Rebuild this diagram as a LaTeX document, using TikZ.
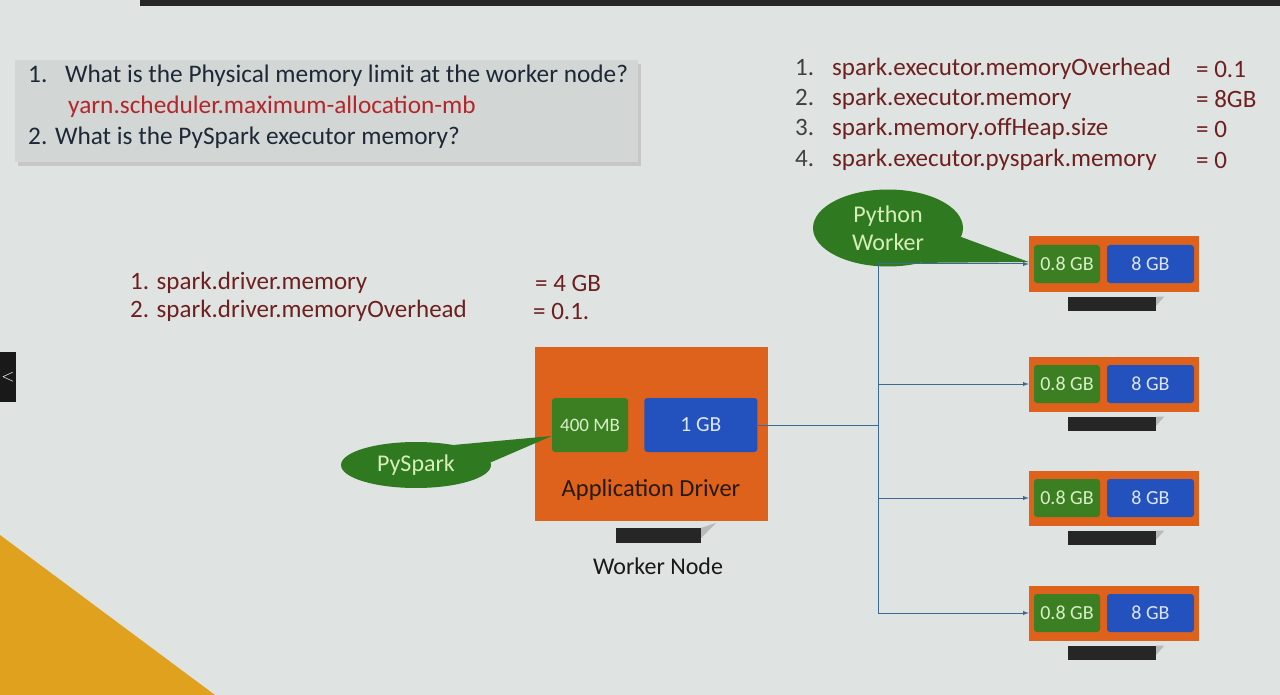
\documentclass[tikz,border=0pt]{standalone}
\usepackage{fontspec}
\setmainfont{Carlito}
\usepackage{xcolor}
\usepackage{tikz}
\usetikzlibrary{shapes,arrows,positioning}
\definecolor{slideBg}{HTML}{DFE3E1}
\definecolor{boxGray}{HTML}{D2D7D5}
\definecolor{driverOrange}{HTML}{DE611C}
\definecolor{memGreen}{HTML}{3C7F22}
\definecolor{memBlue}{HTML}{2352BE}
\definecolor{greenText}{HTML}{D8EEC8}
\definecolor{blueText}{HTML}{DDE4F4}
\definecolor{calloutGreen}{HTML}{2F7A20}
\definecolor{calloutText}{HTML}{D6EEB8}
\definecolor{linkBlue}{HTML}{3C6A94}
\definecolor{confRed}{HTML}{6E2020}
\definecolor{yarnRed}{HTML}{B5262A}
\definecolor{questionInk}{HTML}{1E2836}
\definecolor{accentYellow}{HTML}{E0A21E}
\tikzset{>=latex}
\tikzset{link-line/.style={draw=linkBlue, line width=1pt}}
\tikzset{mem-node/.style={inner sep=0, rounded corners=3pt, minimum height=38pt}}
\tikzset{green-mem/.style={mem-node, fill=memGreen, text=greenText}}
\tikzset{blue-mem/.style={mem-node, fill=memBlue, text=blueText}}
\tikzset{executor-box/.style={fill=driverOrange, inner sep=0, minimum width=170pt, minimum height=55pt}}
\tikzset{stand-bar/.style={fill=black!85, inner sep=0, minimum width=88pt, minimum height=14pt}}
\tikzset{callout/.style={ellipse, fill=calloutGreen, text=calloutText, inner sep=0,
    font=\fontsize{24}{28}\selectfont, align=center}}
\tikzset{question-text/.style={anchor=west, inner sep=0, text=questionInk, font=\fontsize{25.3}{29}\selectfont}}
\tikzset{conf-text/.style={anchor=west, inner sep=0, text=confRed, font=\fontsize{25}{29}\selectfont}}
\tikzset{driver-text/.style={conf-text, font=\fontsize{25}{29}\selectfont}}
\newcommand{\executor}[2] {
    \node[executor-box] (exec#1) at (1114, #2) {};
    \node[green-mem, minimum width=66pt, right=5pt of exec#1.west] (green#1)
        {\fontsize{20}{22}\selectfont 0.8 GB};
    \node[blue-mem, minimum width=87pt, left=5pt of exec#1.east] (blue#1)
        {\fontsize{20}{22}\selectfont 8 GB};
    \node[stand-bar, below=5pt of exec#1.south, xshift=-2pt] (stand#1) {};
    \fill[gray!55] (stand#1.north east) -- ++(8,0) -- ++(-8,9) -- cycle;
}

\begin{document}
\begin{tikzpicture}[x=1pt, y=-1pt]
    \useasboundingbox (0,0) rectangle (1280,695);
    % slide
    \fill[slideBg] (0,0) rectangle (1280,695);
    \fill[black!85] (140,0) rectangle (1280,6);
    \fill[black!90] (0,352) rectangle (16,402);
    \node[text=white, inner sep=0, font=\fontsize{17}{17}\selectfont] (prev) at (8,377) {$<$};
    \fill[accentYellow] (0,535) -- (215,695) -- (0,695) -- cycle;

    % questions
    \fill[black!22] (18,64) rectangle (641,166);
    \node[fill=boxGray, inner sep=0, minimum width=623pt, minimum height=102pt] (questions) at (326.5,111) {};
    \node[question-text] (q1) at (28,76) {\makebox[37pt][l]{1.}What is the Physical memory limit at the worker node?};
    \node[question-text, text=yarnRed] (yarn) at (68,107) {yarn.scheduler.maximum-allocation-mb};
    \node[question-text] (q2) at (28,138) {2. What is the PySpark executor memory?};

    % executor settings
    \node[conf-text] (ec1) at (795,69) {\makebox[37pt][l]{\color{black!75}1.}spark.executor.memoryOverhead};
    \node[conf-text] (ec2) at (795,99) {\makebox[37pt][l]{\color{black!75}2.}spark.executor.memory};
    \node[conf-text] (ec3) at (795,129) {\makebox[37pt][l]{\color{black!75}3.}spark.memory.offHeap.size};
    \node[conf-text] (ec4) at (795,160) {\makebox[37pt][l]{\color{black!75}4.}spark.executor.pyspark.memory};
    \node[conf-text] (ev1) at (1196,69) {= 0.1};
    \node[conf-text] (ev2) at (1196,99) {= 8GB};
    \node[conf-text] (ev3) at (1196,129) {= 0};
    \node[conf-text] (ev4) at (1196,160) {= 0};

    % driver settings
    \node[driver-text] (dc1) at (130,283) {1. spark.driver.memory};
    \node[driver-text] (dc2) at (130,311) {2. spark.driver.memoryOverhead};
    \node[driver-text] (dv1) at (535,283) {= 4 GB};
    \node[driver-text] (dv2) at (533,311) {= 0.1.};

    % driver
    \node[fill=driverOrange, inner sep=0, minimum width=233pt, minimum height=174pt] (driver) at (651.5,434) {};
    \node[green-mem, minimum width=76pt, minimum height=54pt, right=17pt of driver.west, yshift=9pt] (mem400)
        {\fontsize{19}{21}\selectfont 400 MB};
    \node[blue-mem, minimum width=113pt, minimum height=54pt, right=16pt of mem400] (mem1g)
        {\fontsize{21.5}{23}\selectfont 1 GB};
    \node[inner sep=0, text=black!80!brown, font=\fontsize{24.5}{28}\selectfont] (driverlabel) at (651,490) {Application Driver};
    \node[stand-bar, minimum width=85pt, minimum height=15pt] (driverstand) at (658.5,535.5) {};
    \fill[gray!55] (driverstand.north east) -- ++(15,-5) -- ++(-15,15) -- cycle;
    \node[inner sep=0, text=black!90, font=\fontsize{24}{28}\selectfont] (workernode) at (658,566) {Worker Node};

    % executors
    \executor{1}{264}
    \executor{2}{384}
    \executor{3}{498}
    \executor{4}{613}

    % callouts
    \node[callout, minimum width=150pt, minimum height=46pt] (pyspark) at (416,465) {PySpark};
    \fill[calloutGreen] (pyspark.28) -- ([yshift=-11pt]mem400.west) -- (pyspark.2) -- cycle;
    \node[callout, minimum width=150pt, minimum height=77pt] (pyworker) at (888,228) {Python\\Worker};
    \fill[calloutGreen] (pyworker.-7) -- ([yshift=2pt]exec1.west) -- (pyworker.-47) -- cycle;

    % links
    \coordinate (hub) at (878,425);
    \draw[link-line] (mem1g.east) -- (hub);
    \draw[link-line] (hub |- exec1.west) -- (hub |- exec4.west);
    \foreach \i in {1,...,4}
        \draw[link-line, ->] (hub |- exec\i.west) -- (exec\i.west);
\end{tikzpicture}
\end{document}
